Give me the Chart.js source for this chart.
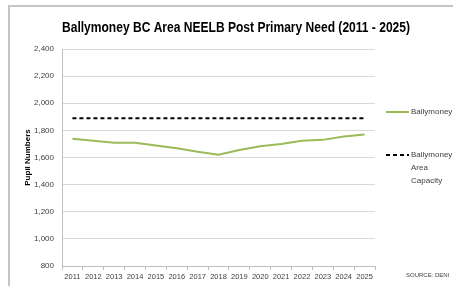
<!DOCTYPE html>
<html>
<head>
<meta charset="utf-8">
<script src="https://cdn.jsdelivr.net/npm/chart.js@4.4.0/dist/chart.umd.min.js"></script>
<style>
    html, body { margin: 0; padding: 0; background: #fff; }
    #wrap { width: 453px; height: 286px; position: relative; }
</style>
</head>
<body>
<div id="wrap"><canvas id="needChart" width="453" height="286"></canvas></div>
<script>
const years = ['2011', '2012', '2013', '2014', '2015', '2016', '2017', '2018',
               '2019', '2020', '2021', '2022', '2023', '2024', '2025'];
const ballymoney = [1738, 1723, 1708, 1708, 1688, 1668, 1643, 1620,
                    1655, 1683, 1700, 1723, 1730, 1755, 1770];
const capacity = [1890, 1890, 1890, 1890, 1890, 1890, 1890, 1890,
                  1890, 1890, 1890, 1890, 1890, 1890, 1890];
const legendLabels = [['Ballymoney'], ['Ballymoney', 'Area', 'Capacity']];
const chartTitle = 'Ballymoney BC Area NEELB Post Primary Need (2011 - 2025)';

const fontFam = "'Liberation Sans Narrow', 'Liberation Sans', Arial, sans-serif";

// frame, title, legend and source note drawn around the chart
const extras = {
    id: 'extras',
    beforeDraw(chart) {
        const ctx = chart.ctx;
        ctx.save();
        ctx.fillStyle = '#fff';
        ctx.fillRect(0, 0, chart.width, chart.height);
        ctx.strokeStyle = '#c4c4c4';
        ctx.lineWidth = 2;
        ctx.strokeRect(9, 6, 470, 300);
        ctx.restore();
    },
    afterDraw(chart) {
        const ctx = chart.ctx;
        ctx.save();
        // title squeezed to the width of the original condensed font
        ctx.fillStyle = '#000';
        ctx.font = 'bold 14px ' + fontFam;
        ctx.textAlign = 'center';
        ctx.textBaseline = 'middle';
        const w = ctx.measureText(chartTitle).width;
        const sx = Math.min(1, 348 / w);
        ctx.save();
        ctx.translate(236, 28);
        ctx.scale(sx, 1);
        ctx.fillText(chartTitle, 0, 0);
        ctx.restore();
        ctx.textAlign = 'left';

        const rows = [112, 155];
        chart.data.datasets.forEach(function(ds, i) {
            const y = rows[i];
            ctx.strokeStyle = ds.borderColor;
            ctx.lineWidth = 2;
            ctx.setLineDash(ds.borderDash || []);
            ctx.beginPath();
            ctx.moveTo(386, y);
            ctx.lineTo(409, y);
            ctx.stroke();
            ctx.setLineDash([]);
            ctx.fillStyle = '#404040';
            ctx.font = '8px ' + fontFam;
            legendLabels[i].forEach(function(line, j) {
                ctx.fillText(line, 411, y + j * 13);
            });
        });
        ctx.font = '6px ' + fontFam;
        ctx.fillStyle = '#404040';
        ctx.fillText('SOURCE: DENI', 406, 275);
        ctx.restore();
    }
};

document.addEventListener('DOMContentLoaded', function() {
    const ctx = document.getElementById('needChart').getContext('2d');
    new Chart(ctx, {
        type: 'line',
        data: {
            labels: years,
            datasets: [{
                label: 'Ballymoney',
                data: ballymoney,
                borderColor: '#9bbb59',
                borderWidth: 2,
                pointRadius: 0,
                tension: 0,
                fill: false
            }, {
                label: 'Ballymoney Area Capacity',
                data: capacity,
                borderColor: '#000000',
                borderWidth: 2,
                borderDash: [4, 3],
                pointRadius: 0,
                fill: false
            }]
        },
        options: {
            responsive: false,
            animation: false,
            layout: { padding: { left: 23, right: 78, top: 49, bottom: 0 } },
            plugins: {
                legend: { display: false },
                tooltip: { enabled: false },
                title: { display: false }
            },
            scales: {
                x: {
                    offset: true,
                    grid: {
                        display: true,
                        drawOnChartArea: false,
                        offset: true,
                        color: '#bfbfbf',
                        tickLength: 4
                    },
                    border: { color: '#bfbfbf' },
                    ticks: {
                        color: '#404040',
                        font: { family: fontFam, size: 7.5 },
                        maxRotation: 0,
                        autoSkip: false,
                        padding: 2
                    },
                    afterFit: function(scale) { scale.height = 20; }
                },
                y: {
                    min: 800,
                    max: 2400,
                    grid: { color: '#d9d9d9', drawTicks: false },
                    border: { color: '#bfbfbf' },
                    ticks: {
                        stepSize: 200,
                        color: '#404040',
                        font: { family: fontFam, size: 8 },
                        padding: 8,
                        callback: function(v) { return v.toLocaleString('en-GB'); }
                    },
                    title: {
                        display: true,
                        text: 'Pupil Numbers',
                        color: '#000',
                        font: { family: fontFam, size: 8, weight: 'bold' },
                        padding: { top: 0, bottom: 4 }
                    },
                    afterFit: function(scale) { scale.width = 39; }
                }
            }
        },
        plugins: [extras]
    });
});
</script>
</body>
</html>
